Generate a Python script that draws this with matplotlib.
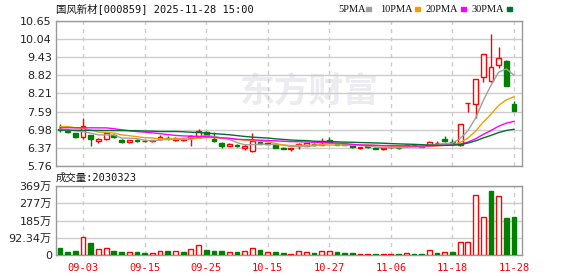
import numpy as np
import pandas as pd
import matplotlib
matplotlib.use("Agg")
import matplotlib.pyplot as plt

plt.rcParams['font.family'] = ['DejaVu Sans', 'Noto Sans CJK SC']

# daily K-line, 2025-08-29 .. 2025-11-28
dates = ['08-29', '09-01', '09-02', '09-03', '09-04', '09-05', '09-08', '09-09', '09-10', '09-11',
         '09-12', '09-15', '09-16', '09-17', '09-18', '09-19', '09-22', '09-23', '09-24', '09-25',
         '09-26', '09-29', '09-30', '10-09', '10-10', '10-13', '10-14', '10-15', '10-16', '10-17',
         '10-20', '10-21', '10-22', '10-23', '10-24', '10-27', '10-28', '10-29', '10-30', '10-31',
         '11-03', '11-04', '11-05', '11-06', '11-07', '11-10', '11-11', '11-12', '11-13', '11-14',
         '11-17', '11-18', '11-19', '11-20', '11-21', '11-24', '11-25', '11-26', '11-27', '11-28']
opens = [7.00, 6.95, 6.86, 6.73, 6.79, 6.60, 6.66, 6.80, 6.64, 6.58,
         6.62, 6.61, 6.59, 6.67, 6.72, 6.63, 6.64, 6.71, 6.74, 6.90,
         6.68, 6.55, 6.44, 6.46, 6.36, 6.28, 6.57, 6.51, 6.46, 6.38,
         6.32, 6.44, 6.45, 6.50, 6.47, 6.64, 6.51, 6.49, 6.46, 6.37,
         6.42, 6.38, 6.32, 6.40, 6.38, 6.45, 6.46, 6.42, 6.46, 6.53,
         6.67, 6.57, 6.47, 7.88, 7.85, 8.75, 8.62, 9.17, 9.30, 7.84]
highs = [7.16, 6.96, 6.88, 7.39, 6.81, 6.70, 6.91, 6.85, 6.66, 6.64,
         6.66, 6.63, 6.65, 6.79, 6.76, 6.73, 6.70, 6.80, 7.02, 6.95,
         6.90, 6.58, 6.53, 6.50, 6.51, 6.88, 6.60, 6.52, 6.47, 6.41,
         6.37, 6.52, 6.55, 6.52, 6.69, 6.74, 6.53, 6.51, 6.47, 6.41,
         6.43, 6.39, 6.37, 6.42, 6.39, 6.49, 6.47, 6.43, 6.59, 6.59,
         6.78, 6.68, 7.17, 7.89, 8.68, 9.55, 10.22, 9.77, 9.33, 7.95]
lows = [6.90, 6.87, 6.70, 6.67, 6.43, 6.53, 6.62, 6.69, 6.55, 6.52,
        6.58, 6.57, 6.56, 6.65, 6.63, 6.60, 6.60, 6.44, 6.72, 6.80,
        6.57, 6.36, 6.42, 6.40, 6.31, 6.22, 6.49, 6.49, 6.36, 6.33,
        6.28, 6.33, 6.43, 6.45, 6.46, 6.54, 6.46, 6.46, 6.38, 6.34,
        6.38, 6.33, 6.31, 6.38, 6.35, 6.44, 6.44, 6.40, 6.45, 6.50,
        6.58, 6.50, 6.45, 7.58, 7.39, 8.60, 8.60, 9.05, 8.45, 7.61]
closes = [6.96, 6.89, 6.73, 7.10, 6.66, 6.67, 6.87, 6.73, 6.58, 6.63,
          6.61, 6.59, 6.63, 6.74, 6.69, 6.71, 6.66, 6.78, 6.94, 6.82,
          6.59, 6.42, 6.51, 6.42, 6.44, 6.60, 6.50, 6.51, 6.38, 6.34,
          6.36, 6.51, 6.53, 6.48, 6.50, 6.56, 6.48, 6.47, 6.39, 6.40,
          6.41, 6.34, 6.36, 6.40, 6.37, 6.48, 6.45, 6.41, 6.58, 6.55,
          6.60, 6.52, 7.17, 7.89, 8.68, 9.55, 9.10, 9.39, 8.45, 7.61]
# volume in 万 shares
volumes = [39, 18, 21, 95, 66, 30, 36, 21, 16, 14,
           16, 11, 11, 21, 21, 20, 16, 30, 52, 27,
           21, 21, 14, 16, 20, 39, 27, 14, 16, 11,
           5, 20, 14, 11, 20, 20, 16, 11, 11, 5,
           5, 5, 5, 5, 5, 11, 5, 5, 25, 11,
           14, 18, 70, 70, 321, 202, 343, 316, 198, 203.03]
# closes before the window, estimated from where the MA lines start
prior_closes = [6.95, 6.80, 7.15, 6.72, 6.73, 6.93, 6.80, 6.65, 6.70, 6.67,
                6.89, 6.75, 7.08, 6.70, 6.70, 6.90, 7.25, 7.30, 7.28, 7.25,
                6.89, 7.13, 7.30, 7.29, 7.29, 6.99, 6.93, 7.20, 6.92]

price_ticks = [5.76, 6.37, 6.98, 7.59, 8.21, 8.82, 9.43, 10.04, 10.65]
vol_ticks = [0, 92.34, 184.68, 277.02, 369.36]
vol_tick_labels = ['0', '92.34万', '185万', '277万', '369万']
date_ticks = ['09-03', '09-15', '09-25', '10-15', '10-27', '11-06', '11-18', '11-28']
ma_windows = [5, 10, 20, 30]
ma_colors = ['#a0a0a0', '#f0a000', '#ff00ff', '#00702e']

RED = '#ff0000'
GREEN = '#008000'
GRID = '#cccccc'
BORDER = '#999999'

o = np.array(opens)
h = np.array(highs)
l = np.array(lows)
c = np.array(closes)
x = np.arange(len(dates))
tick_x = [dates.index(d) for d in date_ticks]

fig = plt.figure(figsize=(5.78, 2.76), dpi=100)
ax = fig.add_axes([56 / 578, 1 - 166 / 276, 466 / 578, 145 / 276])
axv = fig.add_axes([56 / 578, 1 - 255 / 276, 466 / 578, 69 / 276])


def frame(a):
    for s in a.spines.values():
        s.set_color(BORDER)
        s.set_linewidth(1)
    a.tick_params(length=0, labelsize=8, colors='#222222', pad=3)
    a.set_xlim(-0.52, 60.04)
    for tx in tick_x:
        a.axvline(tx, color=GRID, lw=1, ls=(0, (3, 3)), zorder=1)


# price panel
frame(ax)
for p in price_ticks:
    ax.axhline(p, color=GRID, lw=1, zorder=1)
ax.set_ylim(price_ticks[0], price_ticks[-1])
ax.set_yticks(price_ticks)
ax.set_yticklabels([f'{p:.2f}' for p in price_ticks])
ax.set_xticks([])

# watermark
ax.text(0.543, 0.517, '东方财富', transform=ax.transAxes, ha='center', va='center',
        fontsize=25, fontweight='bold', color='#ececf0', family=['Noto Sans CJK SC'], zorder=0)

cols = np.where(c > o, RED, np.where(c < o, GREEN, '#000000'))
fills = np.where(c > o, 'white', cols)
ax.vlines(x, l, h, colors=cols, lw=1, zorder=3)
ax.bar(x, np.maximum(np.abs(c - o), 0.012), bottom=np.minimum(o, c), width=0.62,
       color=fills, edgecolor=cols, linewidth=1, zorder=4)

allc = pd.Series(prior_closes + closes)
for n, col in zip(ma_windows, ma_colors):
    ma = allc.rolling(n).mean().iloc[len(prior_closes):].values
    ax.plot(x, ma, color=col, lw=1, zorder=5)

# volume panel
frame(axv)
for v in vol_ticks:
    axv.axhline(v, color=GRID, lw=1, zorder=1)
axv.set_ylim(0, vol_ticks[-1])
axv.set_yticks(vol_ticks)
axv.set_yticklabels(vol_tick_labels)
axv.set_xticks(tick_x)
axv.set_xticklabels(date_ticks, color=RED, family='DejaVu Sans Mono', fontsize=7.5)
axv.tick_params(axis='x', pad=6)

prev = np.r_[o[0], c[:-1]]
vup = c >= prev
vcols = np.where(vup, RED, GREEN)
vfill = np.where(vup, 'white', GREEN)
axv.bar(x, volumes, width=0.62, color=vfill, edgecolor=vcols, linewidth=1, zorder=3)

# header texts
fig.text(56 / 578, 1 - 9 / 276, '国风新材[000859] 2025-11-28 15:00', ha='left', va='center',
         fontsize=7.5, family=['DejaVu Sans Mono', 'Noto Sans CJK SC'], color='#111111')
fig.text(56 / 578, 1 - 178 / 276, '成交量:2030323', ha='left', va='center',
         fontsize=7.5, family=['DejaVu Sans Mono', 'Noto Sans CJK SC'], color='#111111')

lx = [338, 380, 426, 472]
for n, col, px in zip(ma_windows, ma_colors, lx):
    t = f'{n}PMA'
    fig.text(px / 578, 1 - 9 / 276, t, ha='left', va='center', fontsize=7.5,
             family='Liberation Serif', color='#111111')
    sq_x = px + (28 if n < 10 else 35)
    fig.patches.append(plt.Rectangle((sq_x / 578, 1 - 11 / 276), 5 / 578, 4 / 276,
                                     transform=fig.transFigure, color=col, figure=fig))

fig.savefig('out.png', dpi=100)
